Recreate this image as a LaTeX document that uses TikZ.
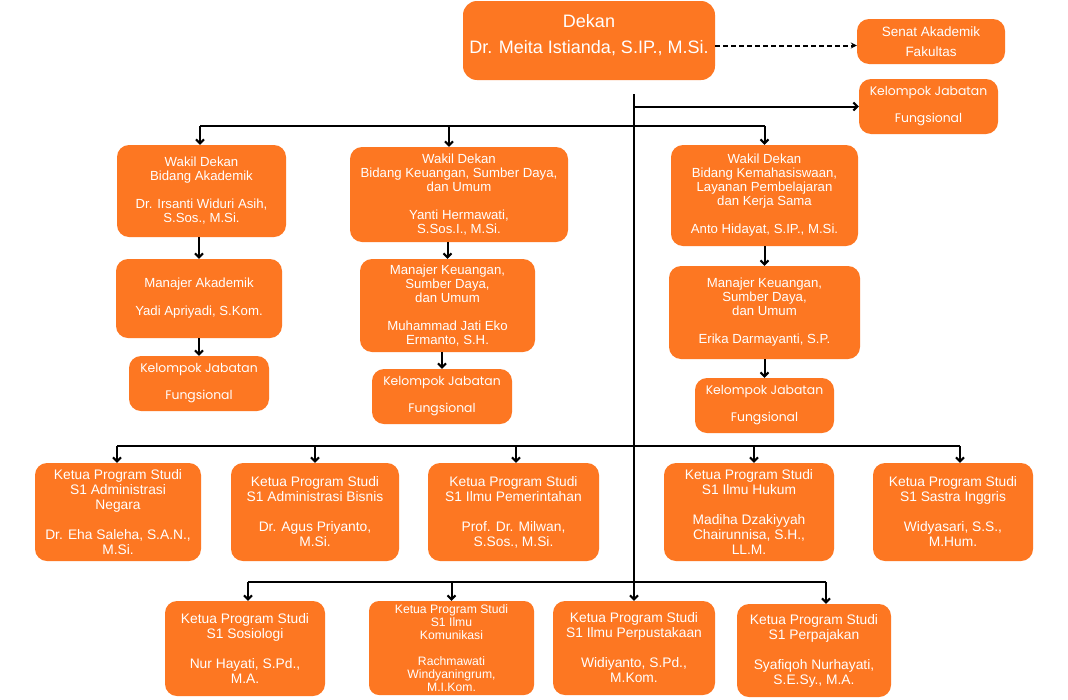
\documentclass[tikz,border=0pt]{standalone}
\usepackage{fontspec}
\setmainfont{Liberation Sans}
\newfontfamily\popf{Poppins}
\usetikzlibrary{arrows.meta,calc}
\definecolor{org}{HTML}{FD7722}
\newcommand\obox[7][box]{\node[#1, minimum width={(#5-#3)*1pt}, minimum height={(#6-#4)*1pt}] (#2) at ({(#3+#5)/2},{(#4+#6)/2}) {#7};}
\begin{document}
\begin{tikzpicture}[x=1pt,y=-1pt,
 box/.style={draw=none, fill=org, text=white, rounded corners=12pt, align=center, inner sep=0pt, font=\fontsize{13.2}{14}\selectfont},
 psbox/.style={box, font=\fontsize{13.8}{15}\selectfont},
 kjf/.style={box, font=\popf\fontsize{12.4}{13.5}\selectfont},
 conn/.style={line width=2pt, -{Straight Barb[length=4pt,width=8pt]}},
 wire/.style={line width=2pt}]
\useasboundingbox (0,0) rectangle (1068,699);
\fill[white] (0,0) rectangle (1068,699);

% top
\obox[box, rounded corners=14pt]{dekan}{463}{1}{715}{80}{}
\node[text=white, align=center, inner sep=0pt, font=\fontsize{18}{26}\selectfont] (dekantxt) at ([yshift=5pt]dekan.center) {Dekan\\Dr. Meita Istianda, S.IP., M.Si.};
\obox[box, font=\fontsize{13.5}{20}\selectfont]{senat}{857}{19}{1005}{64}{Senat Akademik\\Fakultas}
\obox[kjf]{kjf0}{859}{79}{998}{134}{Kelompok Jabatan\\[13.5pt]Fungsional}

% column 1
\obox{wda}{117}{145}{286}{237}{Wakil Dekan\\Bidang Akademik\\[14pt]Dr. Irsanti Widuri Asih,\\S.Sos., M.Si.}
\obox{ma}{116}{259}{282}{338}{Manajer Akademik\\[14pt]Yadi Apriyadi, S.Kom.}
\obox[kjf]{kja}{129}{356}{269}{411}{Kelompok Jabatan\\[13.5pt]Fungsional}

% column 2
\obox{wdk}{350}{147}{568}{242}{Wakil Dekan\\Bidang Keuangan, Sumber Daya,\\dan Umum\\[14pt]Yanti Hermawati,\\S.Sos.I., M.Si.}
\obox{mk}{360}{259}{535}{352}{Manajer Keuangan,\\Sumber Daya,\\dan Umum\\[14pt]Muhammad Jati Eko\\Ermanto, S.H.}
\obox[kjf]{kjk}{372}{369}{512}{424}{Kelompok Jabatan\\[13.5pt]Fungsional}

% column 3
\obox{wdm}{671}{145}{858}{246}{Wakil Dekan\\Bidang Kemahasiswaan,\\Layanan Pembelajaran\\dan Kerja Sama\\[14pt]Anto Hidayat, S.IP., M.Si.}
\obox{mm}{669}{266}{860}{359}{Manajer Keuangan,\\Sumber Daya,\\dan Umum\\[14pt]Erika Darmayanti, S.P.}
\obox[kjf]{kjm}{695}{378}{834}{433}{Kelompok Jabatan\\[13.5pt]Fungsional}

% program studi row 1
\obox[psbox]{an}{35}{463}{201}{561}{Ketua Program Studi\\S1 Administrasi\\Negara\\[15pt]Dr. Eha Saleha, S.A.N.,\\M.Si.}
\obox[psbox]{ab}{231}{463}{399}{561}{Ketua Program Studi\\S1 Administrasi Bisnis\\[15pt]Dr. Agus Priyanto,\\M.Si.}
\obox[psbox]{ip}{428}{463}{599}{561}{Ketua Program Studi\\S1 Ilmu Pemerintahan\\[15pt]Prof. Dr. Milwan,\\S.Sos., M.Si.}
\obox[psbox]{ih}{664}{463}{834}{561}{Ketua Program Studi\\S1 Ilmu Hukum\\[15pt]Madiha Dzakiyyah\\Chairunnisa, S.H.,\\LL.M.}
\obox[psbox]{si}{873}{463}{1033}{561}{Ketua Program Studi\\S1 Sastra Inggris\\[15pt]Widyasari, S.S.,\\M.Hum.}

% program studi row 2
\obox[psbox]{sos}{165}{601}{325}{696}{Ketua Program Studi\\S1 Sosiologi\\[15pt]Nur Hayati, S.Pd.,\\M.A.}
\obox[box, rounded corners=10pt, font=\fontsize{12.2}{13}\selectfont]{kom}{369}{601}{534}{695}{Ketua Program Studi\\S1 Ilmu\\Komunikasi\\[13pt]Rachmawati\\Windyaningrum,\\M.I.Kom.}
\obox[psbox]{perp}{553}{601}{715}{695}{Ketua Program Studi\\S1 Ilmu Perpustakaan\\[15pt]Widiyanto, S.Pd.,\\M.Kom.}
\obox[psbox]{paj}{737}{604}{891}{697}{Ketua Program Studi\\S1 Perpajakan\\[15pt]Syafiqoh Nurhayati,\\S.E.Sy., M.A.}

% connectors
\coordinate (c0) at (634,94);
\coordinate (b1) at (634,126);
\coordinate (b2) at (634,446);
\coordinate (b3) at (634,582);
\draw[line width=2pt, dash pattern=on 5pt off 3pt, -{Stealth[length=6pt,width=6pt]}] ([yshift=-5pt]dekan.east) -- ([yshift=-4pt]senat.west);
\draw[conn] (c0) -- (perp.north);
\draw[conn] (c0 |- kjf0.west) -- (kjf0.west);

\coordinate (wdaT) at ([xshift=-1.5pt]wda.north);
\coordinate (wdkT) at ([xshift=-10pt]wdk.north);
\coordinate (wdmT) at (wdm.north);
\draw[wire] (wdaT |- b1) -- (wdmT |- b1);
\draw[conn] (wdaT |- b1) -- (wdaT);
\draw[conn] (wdkT |- b1) -- (wdkT);
\draw[conn] (wdmT |- b1) -- (wdmT);

\draw[conn] (wda.south -| ma.north) -- (ma.north);
\draw[conn] (ma.south -| kja.north) -- (kja.north);
\draw[conn] (wdk.south -| mk.north) -- (mk.north);
\draw[conn] (mk.south -| kjk.north) -- (kjk.north);
\draw[conn] (wdm.south -| mm.north) -- (mm.north);
\draw[conn] (mm.south -| kjm.north) -- (kjm.north);

\coordinate (anT) at ([xshift=-1pt]an.north);
\coordinate (abT) at (ab.north);
\coordinate (ipT) at ([xshift=2.5pt]ip.north);
\coordinate (ihT) at ([xshift=5pt]ih.north);
\coordinate (siT) at ([xshift=7pt]si.north);
\draw[wire] (anT |- b2) -- (siT |- b2);
\foreach \t in {anT,abT,ipT,ihT,siT} \draw[conn] (\t |- b2) -- (\t);

\coordinate (sosT) at ([xshift=3pt]sos.north);
\coordinate (komT) at (kom.north);
\coordinate (pajT) at ([xshift=12pt]paj.north);
\draw[wire] (sosT |- b3) -- (pajT |- b3);
\draw[conn] (sosT |- b3) -- (sosT);
\draw[conn] (komT |- b3) -- (komT);
\draw[conn] (pajT |- b3) -- (pajT);
\end{tikzpicture}
\end{document}
